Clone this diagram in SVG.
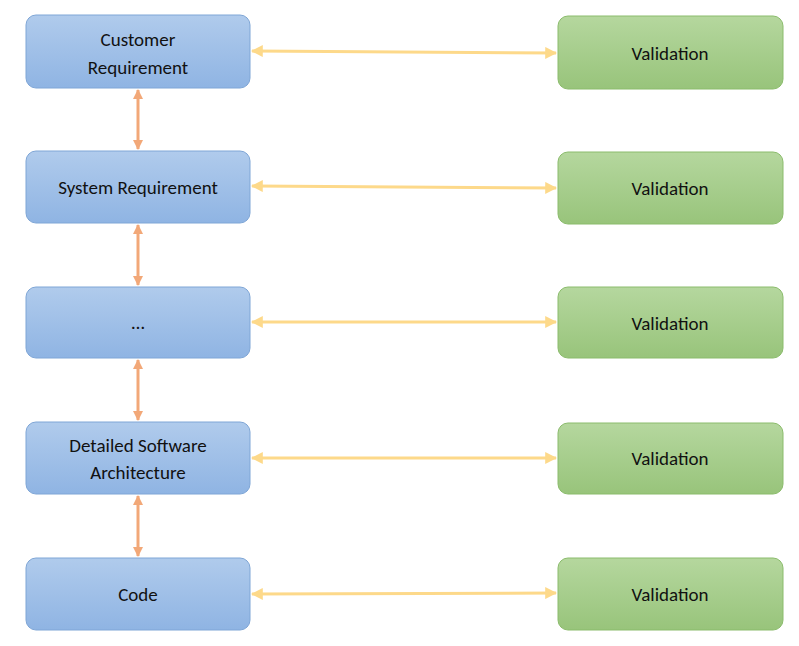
<svg xmlns="http://www.w3.org/2000/svg" width="799" height="646" viewBox="0 0 799 646">
<defs>
<linearGradient id="gb" x1="0" y1="0" x2="0" y2="1"><stop offset="0" stop-color="#b0cbec"/><stop offset="1" stop-color="#8fb4e3"/></linearGradient>
<linearGradient id="gg" x1="0" y1="0" x2="0" y2="1"><stop offset="0" stop-color="#b5d79e"/><stop offset="1" stop-color="#98c47b"/></linearGradient>
<marker id="ay" viewBox="0 0 10 10" refX="9" refY="5" markerWidth="4" markerHeight="4" orient="auto-start-reverse"><path d="M0,0L10,5L0,10z" fill="#fdd98a"/></marker>
<marker id="ao" viewBox="0 0 10 10" refX="9" refY="5" markerWidth="3.5" markerHeight="3.5" orient="auto-start-reverse"><path d="M0,0L10,5L0,10z" fill="#f2a878"/></marker>
</defs>
<style>
.b{fill:url(#gb);stroke:#7fa6d6;stroke-width:1}
.g{fill:url(#gg);stroke:#8bbc6c;stroke-width:1}
text{font-family:Calibri,"Liberation Sans",sans-serif;font-size:19px;fill:#111;text-anchor:middle}
.y{stroke:#fdd98a;stroke-width:3;fill:none;marker-start:url(#ay);marker-end:url(#ay)}
.o{stroke:#f2a878;stroke-width:3;fill:none;marker-start:url(#ao);marker-end:url(#ao)}
</style>
<rect width="799" height="646" fill="#fff"/>
<g id="connectors">
<line class="y" x1="252" y1="51" x2="556" y2="53"/>
<line class="y" x1="252" y1="186" x2="556" y2="188"/>
<line class="y" x1="252" y1="322" x2="556" y2="322"/>
<line class="y" x1="252" y1="458" x2="556" y2="458"/>
<line class="y" x1="252" y1="594" x2="556" y2="593"/>
<line class="o" x1="138" y1="90" x2="138" y2="149"/>
<line class="o" x1="138" y1="225" x2="138" y2="285"/>
<line class="o" x1="138" y1="360" x2="138" y2="420"/>
<line class="o" x1="138" y1="496" x2="138" y2="556"/>
</g>
<g id="n1"><rect class="b" x="26" y="15" width="224" height="73" rx="10"/><text x="138" y="46">Customer</text><text x="138" y="74">Requirement</text></g>
<g id="n2"><rect class="b" x="26" y="151" width="224" height="72" rx="10"/><text x="138" y="194">System Requirement</text></g>
<g id="n3"><rect class="b" x="26" y="287" width="224" height="71" rx="10"/><text x="138" y="329">…</text></g>
<g id="n4"><rect class="b" x="26" y="422" width="224" height="72" rx="10"/><text x="138" y="452">Detailed Software</text><text x="138" y="479">Architecture</text></g>
<g id="n5"><rect class="b" x="26" y="558" width="224" height="72" rx="10"/><text x="138" y="601">Code</text></g>
<g id="v1"><rect class="g" x="558" y="16" width="225" height="73" rx="10"/><text x="670" y="60">Validation</text></g>
<g id="v2"><rect class="g" x="558" y="152" width="225" height="72" rx="10"/><text x="670" y="195">Validation</text></g>
<g id="v3"><rect class="g" x="558" y="287" width="225" height="71" rx="10"/><text x="670" y="330">Validation</text></g>
<g id="v4"><rect class="g" x="558" y="423" width="225" height="71" rx="10"/><text x="670" y="465">Validation</text></g>
<g id="v5"><rect class="g" x="558" y="558" width="225" height="72" rx="10"/><text x="670" y="601">Validation</text></g>
</svg>
